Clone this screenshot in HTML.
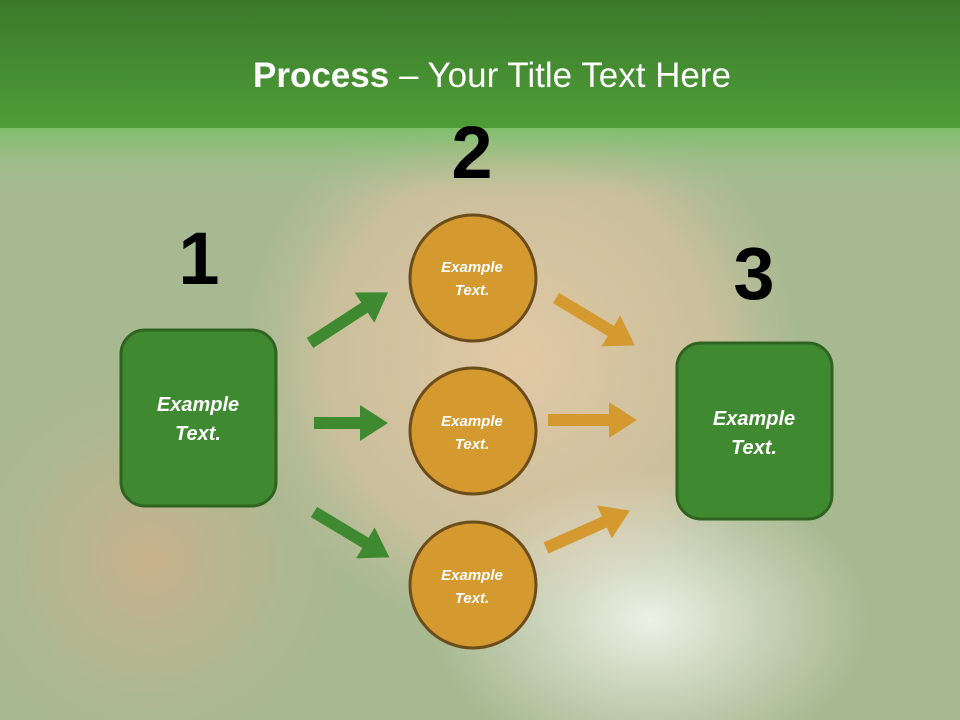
<!DOCTYPE html>
<html><head><meta charset="utf-8"><style>
html,body{margin:0;padding:0;width:960px;height:720px;overflow:hidden}
svg{display:block;overflow:hidden}
</style></head><body>
<svg width="960" height="720" viewBox="0 0 960 720" xmlns="http://www.w3.org/2000/svg">
<defs>
<linearGradient id="top" x1="0" y1="0" x2="0" y2="1">
<stop offset="0" stop-color="#3a7a2a"/><stop offset="1" stop-color="#4f9d38"/>
</linearGradient>
<linearGradient id="fade" x1="0" y1="0" x2="0" y2="1">
<stop offset="0" stop-color="#7fbf6a"/><stop offset="1" stop-color="#a9bf98" stop-opacity="0"/>
</linearGradient>
<radialGradient id="face" cx="0.5" cy="0.5" r="0.5">
<stop offset="0" stop-color="#e2c9a6"/><stop offset="0.7" stop-color="#d9c2a0" stop-opacity="0.7"/><stop offset="1" stop-color="#c9c4a6" stop-opacity="0"/>
</radialGradient>
<radialGradient id="chest" cx="0.5" cy="0.5" r="0.5">
<stop offset="0" stop-color="#eef0e6"/><stop offset="1" stop-color="#e6e8dc" stop-opacity="0"/>
</radialGradient>
<radialGradient id="body" cx="0.5" cy="0.5" r="0.5">
<stop offset="0" stop-color="#c9b28e"/><stop offset="1" stop-color="#b8b690" stop-opacity="0"/>
</radialGradient>
</defs>
<rect width="960" height="720" fill="#a7b990"/>
<ellipse cx="150" cy="560" rx="200" ry="200" fill="url(#body)"/>
<ellipse cx="520" cy="360" rx="280" ry="280" fill="url(#face)"/>
<ellipse cx="650" cy="620" rx="220" ry="150" fill="url(#chest)"/>
<rect y="128" width="960" height="70" fill="url(#fade)"/>
<rect width="960" height="128" fill="url(#top)"/>
<text x="492" y="87" text-anchor="middle" fill="#fff" font-family="Liberation Sans, sans-serif" font-size="35"><tspan font-weight="bold">Process</tspan> – Your Title Text Here</text>
<g font-family="Liberation Sans, sans-serif" font-weight="bold" font-size="74" fill="#000" text-anchor="middle">
<text x="199" y="284">1</text><text x="472" y="178">2</text><text x="754" y="299">3</text>
</g>
<g fill="#3f8a30">
<polygon points="0,-6 65,-6 65,-18 93,0 65,18 65,6 0,6" transform="translate(310,343) rotate(-33)"/>
<polygon points="0,-6 46,-6 46,-18 74,0 46,18 46,6 0,6" transform="translate(314,423)"/>
<polygon points="0,-6 60,-6 60,-18 88,0 60,18 60,6 0,6" transform="translate(314,512) rotate(31)"/>
</g>
<g fill="#d49a30">
<polygon points="0,-6 64,-6 64,-18 92,0 64,18 64,6 0,6" transform="translate(556,298) rotate(31)"/>
<polygon points="0,-6 61,-6 61,-18 89,0 61,18 61,6 0,6" transform="translate(548,420)"/>
<polygon points="0,-6 64,-6 64,-18 92,0 64,18 64,6 0,6" transform="translate(546,548) rotate(-24)"/>
</g>
<g fill="#3f8a30" stroke="#2e6322" stroke-width="3">
<rect x="121" y="330" width="155" height="176" rx="24"/>
<rect x="677" y="343" width="155" height="176" rx="24"/>
</g>
<g fill="#d49a30" stroke="#6b4c1a" stroke-width="3">
<circle cx="473" cy="278" r="63"/><circle cx="473" cy="431" r="63"/><circle cx="473" cy="585" r="63"/>
</g>
<g fill="#fff" font-family="Liberation Sans, sans-serif" font-weight="bold" font-style="italic" text-anchor="middle">
<text x="198" y="411" font-size="20">Example</text><text x="198" y="440" font-size="20">Text.</text>
<text x="754" y="425" font-size="20">Example</text><text x="754" y="454" font-size="20">Text.</text>
<text x="472" y="272" font-size="15">Example</text><text x="472" y="295" font-size="15">Text.</text>
<text x="472" y="426" font-size="15">Example</text><text x="472" y="449" font-size="15">Text.</text>
<text x="472" y="580" font-size="15">Example</text><text x="472" y="603" font-size="15">Text.</text>
</g>
</svg>
</body></html>
